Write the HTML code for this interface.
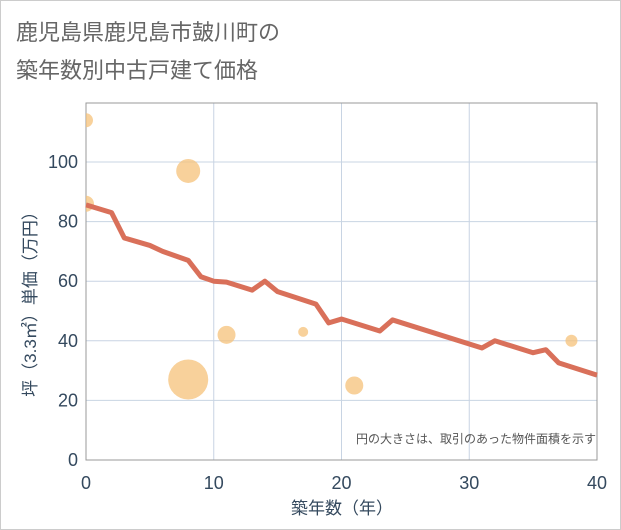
<!DOCTYPE html>
<html><head><meta charset="utf-8"><style>
body{margin:0;background:#fff;}
svg{display:block;font-family:"Liberation Sans","Noto Sans CJK JP",sans-serif;}
</style></head><body>
<svg width="621" height="530" viewBox="0 0 621 530">
<defs><clipPath id="plotclip"><rect x="86" y="103" width="511" height="357"/></clipPath></defs>
<rect x="0.5" y="0.5" width="620" height="529" fill="#fff" stroke="#ccc"/>
<text x="16" y="40" font-size="22" fill="#666">鹿児島県鹿児島市皷川町の</text>
<text x="16" y="78" font-size="22" fill="#666">築年数別中古戸建て価格</text>
<g id="grid"></g>
<g id="bubbles" clip-path="url(#plotclip)"></g>
<path id="line" fill="none" stroke="#d9705a" stroke-width="5" stroke-linejoin="round"/>
<g id="axes"></g>
<text x="596" y="443" font-size="12" fill="#555" text-anchor="end">円の大きさは、取引のあった物件面積を示す</text>
<text x="342" y="514" font-size="17" fill="#34495e" text-anchor="middle">築年数（年）</text>
<text transform="translate(36,300) rotate(-90)" font-size="17" fill="#34495e" text-anchor="middle">坪（3.3㎡）単価（万円）</text>
</svg>
<script>
const xTicks=[0,10,20,30,40];
const yTicks=[0,20,40,60,80,100];
const lineYears=[0,2,3,5,6,8,9,10,11,13,14,15,18,19,20,23,24,31,32,35,36,37,40];
const linePrices=[85.6,83,74.5,72,70,67,61.5,60,59.7,57,60,56.5,52.3,46,47.3,43.3,47,37.6,40,36,37,32.6,28.5];
const bubbleYears=[0,0,8,8,11,17,21,38];
const bubblePrices=[114,86,97,27,42,43,25,40];
const bubbleSizes=[7,8,12,20,9,5,9,6];
const L=86,R=597,T=103,B=460;
const xs=v=>L+(v-0)/40*(R-L);
const ys=v=>B-v/100*(B-162);
const NS="http://www.w3.org/2000/svg";
const grid=document.getElementById('grid'),axes=document.getElementById('axes');
function mk(tag,attrs,parent){const e=document.createElementNS(NS,tag);for(const k in attrs)e.setAttribute(k,attrs[k]);parent.appendChild(e);return e;}
xTicks.forEach(t=>{
 const g=mk('line',{x1:xs(t),x2:xs(t),y1:T,y2:B,stroke:'#c8d4e3','stroke-width':1},grid);
 
 
 const tx=mk('text',{x:xs(t),y:B+29,'font-size':18,fill:'#34495e','text-anchor':'middle'},axes);
 tx.textContent=t;
 
 
});
yTicks.forEach(t=>{
 const g=mk('line',{x1:L,x2:R,y1:ys(t),y2:ys(t),stroke:'#c8d4e3','stroke-width':1},grid);
 
 
 const tx=mk('text',{x:L-8,y:ys(t)+6,'font-size':18,fill:'#34495e','text-anchor':'end'},axes);
 tx.textContent=t;
 
 
});
const f=mk('rect',{x:L,y:T,width:R-L,height:B-T,fill:'none',stroke:'#999','stroke-width':1},grid);


const bg=document.getElementById('bubbles');
bubbleYears.forEach((y,i)=>{
 const c=mk('circle',{cx:xs(y),cy:ys(bubblePrices[i]),r:bubbleSizes[i],fill:'#f5c27a','fill-opacity':0.75},bg);
 
 
});
document.getElementById('line').setAttribute('d',lineYears.map((y,i)=>(i?'L':'M')+xs(y)+','+ys(linePrices[i])).join(''));
</script>
</body></html>
